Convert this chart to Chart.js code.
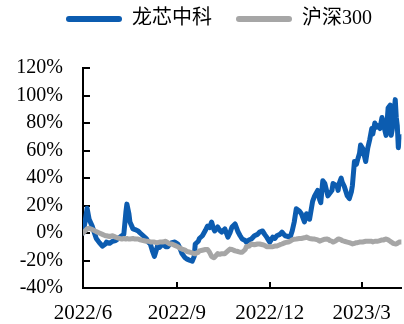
<!DOCTYPE html>
<html>
<head>
<meta charset="utf-8">
<script src="https://cdn.jsdelivr.net/npm/chart.js@4/dist/chart.umd.min.js"></script>
<style>
  html, body { margin: 0; padding: 0; background: #fff; }
  canvas { display: block; }
</style>
</head>
<body>
<canvas id="chart" width="404" height="324"></canvas>
<script>
// ===================== DATA =====================
const seriesNames = ['龙芯中科', '沪深300'];

const dates = [
    '2022-06-01', '2022-06-03', '2022-06-05', '2022-06-07', '2022-06-10', '2022-06-14', '2022-06-17', '2022-06-20', '2022-06-23', '2022-06-24', '2022-06-27', '2022-06-30',
    '2022-07-03', '2022-07-05', '2022-07-09', '2022-07-11', '2022-07-13', '2022-07-14', '2022-07-16', '2022-07-17', '2022-07-20', '2022-07-22', '2022-07-25', '2022-07-27', '2022-07-30',
    '2022-08-02', '2022-08-04', '2022-08-06', '2022-08-08', '2022-08-10', '2022-08-12', '2022-08-13', '2022-08-15', '2022-08-18', '2022-08-21', '2022-08-23', '2022-08-25', '2022-08-27', '2022-08-30',
    '2022-09-02', '2022-09-04', '2022-09-06', '2022-09-09', '2022-09-11', '2022-09-14', '2022-09-16', '2022-09-18', '2022-09-19', '2022-09-22', '2022-09-23', '2022-09-26', '2022-09-29',
    '2022-10-01', '2022-10-03', '2022-10-05', '2022-10-07', '2022-10-08', '2022-10-11', '2022-10-13', '2022-10-15', '2022-10-18', '2022-10-21', '2022-10-23', '2022-10-25', '2022-10-28', '2022-10-31',
    '2022-11-02', '2022-11-04', '2022-11-07', '2022-11-08', '2022-11-11', '2022-11-13', '2022-11-16', '2022-11-19', '2022-11-21', '2022-11-24', '2022-11-26', '2022-11-28',
    '2022-12-01', '2022-12-04', '2022-12-06', '2022-12-08', '2022-12-11', '2022-12-13', '2022-12-16', '2022-12-19', '2022-12-21', '2022-12-23', '2022-12-25', '2022-12-27', '2022-12-30',
    '2023-01-01', '2023-01-04', '2023-01-06', '2023-01-09', '2023-01-12', '2023-01-14', '2023-01-17', '2023-01-19', '2023-01-20', '2023-01-22', '2023-01-24', '2023-01-26', '2023-01-27', '2023-01-29', '2023-01-31',
    '2023-02-01', '2023-02-03', '2023-02-05', '2023-02-06', '2023-02-07', '2023-02-09', '2023-02-10', '2023-02-12', '2023-02-15', '2023-02-17', '2023-02-19', '2023-02-20', '2023-02-22', '2023-02-24', '2023-02-25', '2023-02-27', '2023-02-28',
    '2023-03-02', '2023-03-05', '2023-03-07', '2023-03-09', '2023-03-11', '2023-03-12', '2023-03-14', '2023-03-16', '2023-03-17', '2023-03-19', '2023-03-21', '2023-03-23', '2023-03-24', '2023-03-25', '2023-03-27', '2023-03-29', '2023-03-30', '2023-03-31',
    '2023-04-01', '2023-04-03', '2023-04-04', '2023-04-05', '2023-04-06', '2023-04-07', '2023-04-09'
];

// cumulative return, %
const longxinValues = [
    0, 8, 18, 10, 5, -4, -7, -9.5, -8, -6.6, -7.5, -6,
    -5.5, -4.4, -2, -1, 15, 21, 14, 8, 3, 2.5, 1.5, 0, -2,
    -4, -6.6, -8, -13, -17, -12, -9.5, -10.5, -8, -10, -10, -8, -7, -6.6,
    -8, -11, -15, -18, -19, -20, -20.5, -17, -8, -6, -4, -2, 2,
    5, 4, 8, 3, 1.5, 4.4, 2, 0.7, 3, -3, 0, 4.4, 6.6, 0.7,
    -2, -4.4, -5.5, -6.6, -5, -4.4, -2, -1, 0.7, 1.5, -1, -3,
    -6.6, -3, -4, -2, -1, 0.7, -2, -2.5, -3, 1.5, 8, 17.6, 16,
    14, 8, 14, 10, 23, 27, 31, 24, 22, 38, 36, 30, 27, 29, 31,
    36, 35, 34, 31, 36, 40, 37, 34, 27, 25, 30, 34.5, 52, 50, 53, 58, 64,
    61.6, 52, 61.6, 68, 76, 72, 80, 77, 78, 76, 84, 78, 74, 71, 91, 93, 71, 75,
    81, 97, 84, 78, 62, 69, 70
];

const hs300Values = [
    0, 1.5, 3, 3.5, 2.5, 1, 0, -1, -2, -2, -2.5, -2,
    -3, -3.5, -4.4, -4, -4.4, -4, -4.4, -4.4, -4, -4.4, -4.4, -5, -5.5,
    -6, -6, -6.5, -6.6, -6.6, -7, -7, -6.6, -6.6, -6, -7, -8, -8, -9,
    -10, -11, -11.7, -12.5, -13.5, -14, -14.5, -15, -15, -14, -13, -12.5, -12,
    -12, -14, -17, -18, -17.6, -15, -15.5, -15, -15, -13, -11.7, -12, -13, -13.5,
    -14, -14, -12, -10, -9.5, -8, -8.5, -8, -8, -8.5, -9, -10,
    -10, -10, -9.5, -9.5, -8.5, -8, -7, -6.6, -6, -5, -4.5, -4.4, -4,
    -4, -3.5, -3, -4, -4.4, -4.4, -5, -6, -5.5, -5, -4.5, -4.4, -4.5, -5.5, -6,
    -6.6, -6, -5, -4.4, -4.4, -5, -5.5, -6, -6.6, -7, -7.5, -8, -7.5, -7, -7, -6.6, -6.5,
    -6.5, -6, -6, -6, -6, -6.5, -6, -6, -6, -5.5, -5, -5, -4.5, -4.4, -5, -6, -6.6, -7,
    -7.5, -8, -8, -7.5, -7, -6.6, -6.6
];

const tickDates = ['2022-06-01', '2022-09-01', '2022-12-01', '2023-03-01'];
const tickLabels = ['2022/6', '2022/9', '2022/12', '2023/3'];
const yTicks = [-40, -20, 0, 20, 40, 60, 80, 100, 120];

// ===================== HELPERS =====================
function dayIndex(str) {
    const [y, m, d] = str.split('-').map(Number);
    return (Date.UTC(y, m - 1, d) - Date.UTC(2022, 5, 1)) / 86400000;
}

const days = dates.map(dayIndex);
const tickDays = tickDates.map(dayIndex);

// legend needs extra room below it, and sits a bit right of centre
const legendSpacer = {
    id: 'legendSpacer',
    beforeInit(chart) {
        const origFit = chart.legend.fit;
        chart.legend.fit = function () {
            origFit.call(this);
            this.height += 29;
            if (this.lineWidths && this.lineWidths.length) this.lineWidths[0] -= 36;
        };
    }
};

// tick marks point into the plot
const innerTicks = {
    id: 'innerTicks',
    beforeDatasetsDraw(chart) {
        const { ctx, chartArea, scales: { x, y } } = chart;
        ctx.save();
        ctx.strokeStyle = '#000';
        ctx.lineWidth = 2;
        ctx.beginPath();
        y.ticks.forEach((t, i) => {
            const py = Math.round(y.getPixelForTick(i));
            ctx.moveTo(chartArea.left, py);
            ctx.lineTo(chartArea.left + 7, py);
        });
        x.ticks.forEach((t, i) => {
            const px = Math.round(x.getPixelForTick(i));
            ctx.moveTo(px, chartArea.bottom);
            ctx.lineTo(px, chartArea.bottom - 6);
        });
        ctx.stroke();
        ctx.restore();
    }
};

// ===================== CHART =====================
Chart.defaults.font.family = "'Liberation Serif', 'Noto Sans CJK SC', serif";
Chart.defaults.color = '#000';

const ctx = document.getElementById('chart').getContext('2d');
new Chart(ctx, {
    type: 'line',
    data: {
        datasets: [
            {
                label: seriesNames[0],
                data: days.map((d, i) => ({ x: d, y: longxinValues[i] })),
                borderColor: '#0c5cb0',
                backgroundColor: '#0c5cb0',
                borderWidth: 5,
                pointRadius: 0,
                tension: 0,
                borderJoinStyle: 'round',
                borderCapStyle: 'round'
            },
            {
                label: seriesNames[1],
                data: days.map((d, i) => ({ x: d, y: hs300Values[i] })),
                borderColor: '#a6a6a6',
                backgroundColor: '#a6a6a6',
                borderWidth: 5,
                pointRadius: 0,
                tension: 0,
                borderJoinStyle: 'round',
                borderCapStyle: 'round',
                order: -1
            }
        ]
    },
    options: {
        responsive: false,
        animation: false,
        devicePixelRatio: 1,
        layout: { padding: { top: -15, left: 0, right: 2, bottom: 0 } },
        plugins: {
            tooltip: { enabled: false },
            legend: {
                position: 'top',
                align: 'center',
                labels: {
                    font: { size: 20 },
                    color: '#000',
                    boxWidth: 56,
                    boxHeight: 6,
                    padding: 24,
                    useBorderRadius: true,
                    borderRadius: 3,
                    sort: (a, b) => a.datasetIndex - b.datasetIndex,
                    generateLabels(chart) {
                        const items = Chart.defaults.plugins.legend.labels.generateLabels(chart);
                        items.forEach(it => { it.lineWidth = 0; });
                        return items;
                    }
                }
            }
        },
        scales: {
            x: {
                type: 'linear',
                min: 0,
                max: days[days.length - 1],
                grid: { display: false, drawTicks: false },
                border: { display: true, color: '#000', width: 2 },
                afterBuildTicks(axis) {
                    axis.ticks = tickDays.map(v => ({ value: v }));
                },
                afterFit(scale) { scale.height = 36; },
                ticks: {
                    autoSkip: false,
                    maxRotation: 0,
                    padding: 13,
                    font: { size: 21 },
                    callback: (value) => tickLabels[tickDays.indexOf(value)]
                }
            },
            y: {
                min: yTicks[0],
                max: yTicks[yTicks.length - 1],
                grid: { display: false, drawTicks: false },
                border: { display: true, color: '#000', width: 2 },
                afterFit(scale) { scale.width = 83; },
                ticks: {
                    stepSize: 20,
                    padding: 20,
                    font: { size: 20 },
                    callback: (v) => v + '%'
                }
            }
        }
    },
    plugins: [legendSpacer, innerTicks]
});
</script>
</body>
</html>
